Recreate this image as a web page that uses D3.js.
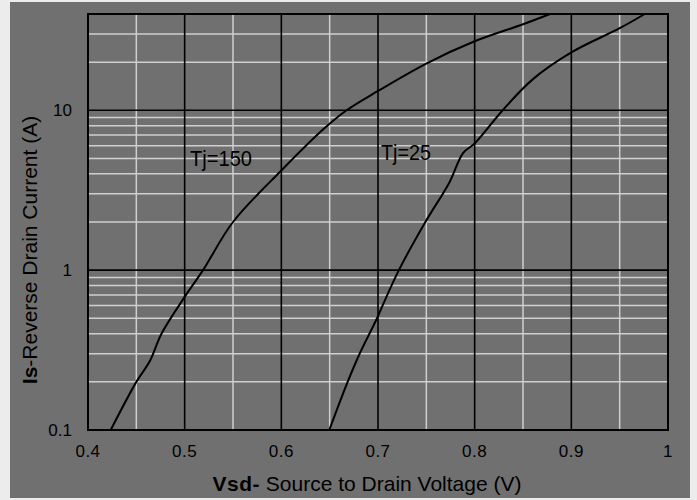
<!DOCTYPE html>
<html>
<head>
<meta charset="utf-8">
<script src="https://cdn.jsdelivr.net/npm/d3@7"></script>
<style>
  body { margin: 0; background: #ececec; }
  text { font-family: "Liberation Sans", Arial, sans-serif; fill: #000; }
</style>
</head>
<body>
<script>
// Tj=150 curve
var vsd150 = [0.4235, 0.45, 0.464, 0.476, 0.5, 0.519, 0.55, 0.6, 0.6434, 0.6675, 0.7, 0.75, 0.8, 0.85, 0.878];
var is150  = [0.1,    0.2,  0.27,  0.40,  0.68, 1,    2,    4.2, 7.6,    10,     13.2, 19.6, 27,   34.5, 40];
// Tj=25 curve
var vsd25 = [0.6496, 0.6686, 0.681, 0.699, 0.7047, 0.7216, 0.749, 0.774, 0.788, 0.8, 0.829, 0.86, 0.9, 0.95, 0.976];
var is25  = [0.1,    0.2,    0.3,   0.5,   0.6,    1,      2,     3.55,  5.4,   6.2, 10,    15.6, 23,  32.6, 40];

var xTicks = [0.4, 0.5, 0.6, 0.7, 0.8, 0.9, 1];
var xMinor = [0.45, 0.55, 0.65, 0.75, 0.85, 0.95];
var yTicks = [0.1, 1, 10];
var yMinor = [0.2, 0.3, 0.4, 0.5, 0.6, 0.7, 0.8, 0.9, 2, 3, 4, 5, 6, 7, 8, 9, 20, 30];

var W = 697, H = 500;
var svg = d3.select("body").append("svg").attr("width", W).attr("height", H);

// gray figure panel
svg.append("rect").attr("x", 10).attr("y", 2).attr("width", 680).attr("height", 496).attr("fill", "#707070");

var x = d3.scaleLinear().domain([0.4, 1]).range([88, 668]);
var y = d3.scaleLog().domain([0.1, 40]).range([430, 14]);

var grid = svg.append("g");
// minor grid (white)
grid.selectAll("line.xm").data(xMinor).enter().append("line")
    .attr("x1", function(d){ return x(d); }).attr("x2", function(d){ return x(d); })
    .attr("y1", y(40)).attr("y2", y(0.1))
    .attr("stroke", "#cfcfcf").attr("stroke-width", 1.5);
grid.selectAll("line.ym").data(yMinor).enter().append("line")
    .attr("y1", function(d){ return y(d); }).attr("y2", function(d){ return y(d); })
    .attr("x1", x(0.4)).attr("x2", x(1))
    .attr("stroke", "#cfcfcf").attr("stroke-width", 1.5);
// major grid (black)
grid.selectAll("line.xM").data(xTicks).enter().append("line")
    .attr("x1", function(d){ return x(d); }).attr("x2", function(d){ return x(d); })
    .attr("y1", y(40)).attr("y2", y(0.1))
    .attr("stroke", "#000").attr("stroke-width", 1.6);
grid.selectAll("line.yM").data(yTicks).enter().append("line")
    .attr("y1", function(d){ return y(d); }).attr("y2", function(d){ return y(d); })
    .attr("x1", x(0.4)).attr("x2", x(1))
    .attr("stroke", "#000").attr("stroke-width", 1.6);

svg.append("rect").attr("x", x(0.4)).attr("y", y(40))
    .attr("width", x(1) - x(0.4)).attr("height", y(0.1) - y(40))
    .attr("fill", "none").attr("stroke", "#000").attr("stroke-width", 2);

// curves
var line = d3.line()
    .x(function(d){ return x(d[0]); })
    .y(function(d){ return y(d[1]); })
    .curve(d3.curveCatmullRom.alpha(0.5));

svg.append("path").attr("d", line(d3.zip(vsd150, is150)))
    .attr("fill", "none").attr("stroke", "#000").attr("stroke-width", 2);
svg.append("path").attr("d", line(d3.zip(vsd25, is25)))
    .attr("fill", "none").attr("stroke", "#000").attr("stroke-width", 2);

// tick labels
svg.selectAll("text.xt").data(xTicks).enter().append("text")
    .attr("x", function(d){ return x(d); }).attr("y", 457)
    .attr("text-anchor", "middle").attr("font-size", 17).attr("letter-spacing", 0.5)
    .text(function(d){ return d; });
svg.selectAll("text.yt").data(yTicks).enter().append("text")
    .attr("x", 72).attr("y", function(d){ return y(d) + 6; })
    .attr("text-anchor", "end").attr("font-size", 17)
    .text(function(d){ return d; });

// curve labels
svg.append("text").attr("x", 190).attr("y", 166).attr("font-size", 22)
    .attr("textLength", 62).attr("lengthAdjust", "spacingAndGlyphs").text("Tj=150");
svg.append("text").attr("x", 381).attr("y", 160).attr("font-size", 22)
    .attr("textLength", 50).attr("lengthAdjust", "spacingAndGlyphs").text("Tj=25");

// axis titles
var xt = svg.append("text").attr("x", 367).attr("y", 491).attr("font-size", 21).attr("text-anchor", "middle");
xt.append("tspan").attr("font-weight", "bold").attr("letter-spacing", 0.5).text("Vsd-");
xt.append("tspan").text(" Source to Drain Voltage (V)");

var yt = svg.append("text").attr("transform", "translate(37,250) rotate(-90)")
    .attr("font-size", 21).attr("text-anchor", "middle");
yt.append("tspan").attr("font-weight", "bold").text("Is");
yt.append("tspan").text("-Reverse Drain Current (A)");
</script>
</body>
</html>
